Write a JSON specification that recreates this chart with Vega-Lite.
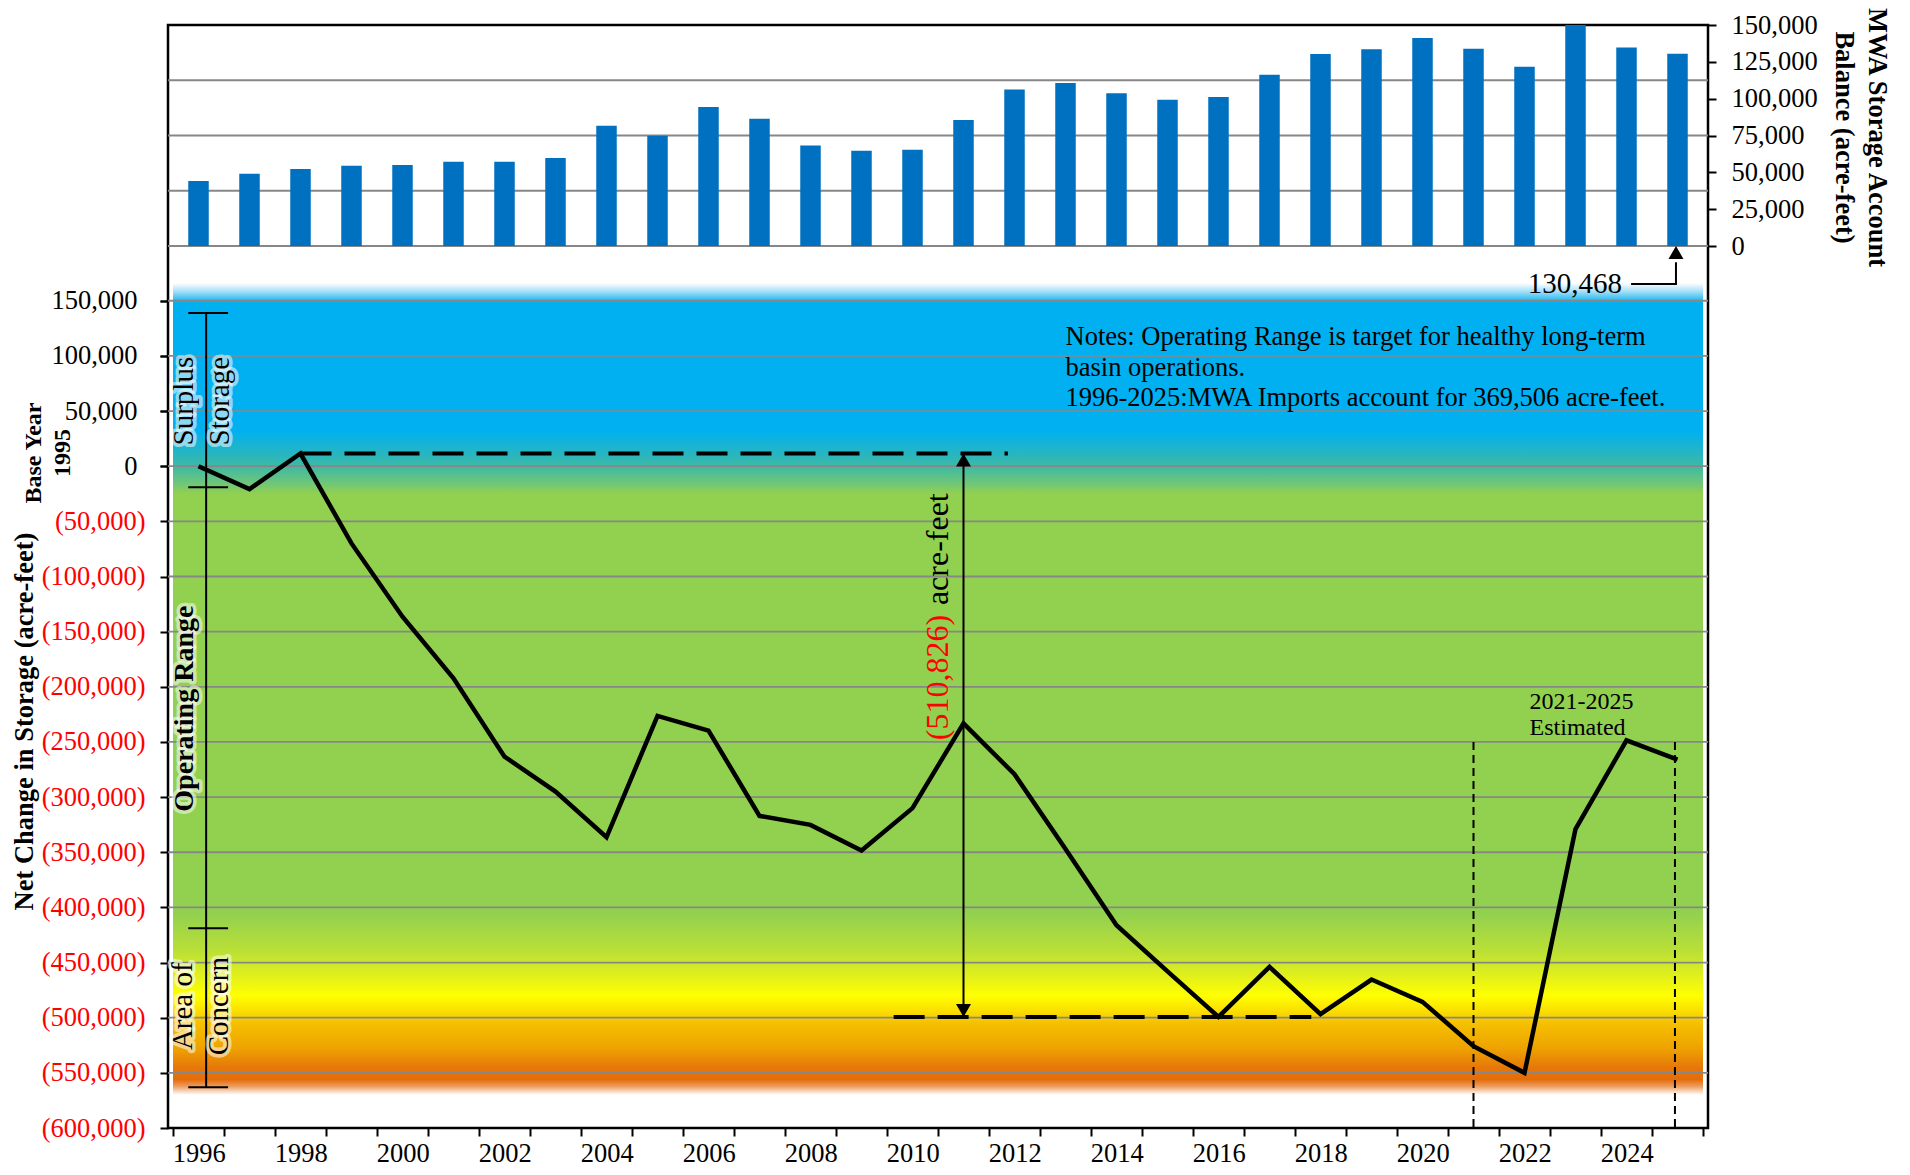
{
  "$schema": "https://vega.github.io/schema/vega-lite/v6.json",
  "width": 1540,
  "height": 1103,
  "autosize": {"type": "none"},
  "padding": {"left": 168, "top": 25, "right": 202, "bottom": 47},
  "background": "white",
  "config": {
    "font": "Liberation Serif",
    "view": {"stroke": "black", "strokeWidth": 2.5},
    "axis": {"labelFont": "Liberation Serif", "titleFont": "Liberation Serif", "labelColor": "black", "titleColor": "black", "tickColor": "black", "grid": false, "domain": false},
    "text": {"font": "Liberation Serif"}
  },
  "datasets": {
    "line": [
      {"year": 1996, "v": 0}, {"year": 1997, "v": -20800}, {"year": 1998, "v": 11500}, {"year": 1999, "v": -70000},
      {"year": 2000, "v": -136500}, {"year": 2001, "v": -192300}, {"year": 2002, "v": -263300}, {"year": 2003, "v": -295000},
      {"year": 2004, "v": -336400}, {"year": 2005, "v": -226400}, {"year": 2006, "v": -239700}, {"year": 2007, "v": -317000},
      {"year": 2008, "v": -325200}, {"year": 2009, "v": -348400}, {"year": 2010, "v": -310000}, {"year": 2011, "v": -233100},
      {"year": 2012, "v": -279300}, {"year": 2013, "v": -347000}, {"year": 2014, "v": -416200}, {"year": 2015, "v": -458000},
      {"year": 2016, "v": -499300}, {"year": 2017, "v": -453900}, {"year": 2018, "v": -496800}, {"year": 2019, "v": -465400},
      {"year": 2020, "v": -485600}, {"year": 2021, "v": -525800}, {"year": 2022, "v": -550000}, {"year": 2023, "v": -329000},
      {"year": 2024, "v": -248500}, {"year": 2025, "v": -266000}
    ],
    "bars": [
      {"year": 1996, "v": 44100}, {"year": 1997, "v": 49100}, {"year": 1998, "v": 52300}, {"year": 1999, "v": 54500},
      {"year": 2000, "v": 55000}, {"year": 2001, "v": 57200}, {"year": 2002, "v": 57200}, {"year": 2003, "v": 59700},
      {"year": 2004, "v": 81700}, {"year": 2005, "v": 74900}, {"year": 2006, "v": 94300}, {"year": 2007, "v": 86400},
      {"year": 2008, "v": 68300}, {"year": 2009, "v": 64700}, {"year": 2010, "v": 65400}, {"year": 2011, "v": 85500},
      {"year": 2012, "v": 106300}, {"year": 2013, "v": 110600}, {"year": 2014, "v": 103600}, {"year": 2015, "v": 99300},
      {"year": 2016, "v": 101100}, {"year": 2017, "v": 116300}, {"year": 2018, "v": 130300}, {"year": 2019, "v": 133500},
      {"year": 2020, "v": 141200}, {"year": 2021, "v": 133900}, {"year": 2022, "v": 121700}, {"year": 2023, "v": 150000},
      {"year": 2024, "v": 134800}, {"year": 2025, "v": 130468}
    ],
    "gridA": [
      {"v": 150000}, {"v": 100000}, {"v": 50000}, {"v": 0}, {"v": -50000}, {"v": -100000}, {"v": -150000}, {"v": -200000},
      {"v": -250000}, {"v": -300000}, {"v": -350000}, {"v": -400000}, {"v": -450000}, {"v": -500000}, {"v": -550000}
    ],
    "gridB": [{"v": 0}, {"v": 37500}, {"v": 75000}, {"v": 112500}],
    "zone": [{"x0": 1995.5, "x1": 2025.5, "y0": -570000, "y1": 166000}],
    "bracket": [{"x": 1996.15, "y0": 139000, "y1": -563000}],
    "caps": [
      {"x0": 1995.8, "x1": 1996.58, "y": 139000}, {"x0": 1995.8, "x1": 1996.58, "y": -19000},
      {"x0": 1995.8, "x1": 1996.58, "y": -419000}, {"x0": 1995.8, "x1": 1996.58, "y": -563000}
    ],
    "zoneLabels": [
      {"x": 1995.715, "y": 59000, "t": "Surplus\nStorage"},
      {"x": 1995.695, "y": -489600, "t": "Area of\nConcern"}
    ],
    "opLabel": [{"x": 1995.74, "y": -219800, "t": "Operating Range"}],
    "hdash": [
      {"x0": 1998, "x1": 2011.87, "y": 11500},
      {"x0": 2009.63, "x1": 2017.82, "y": -499300}
    ],
    "vdash": [
      {"x": 2021, "y0": -250000, "y1": -600000},
      {"x": 2024.95, "y0": -250000, "y1": -600000}
    ],
    "arrow": [{"x": 2011, "y0": 11500, "y1": -499300}],
    "baseYear": [{"x": 1992.78, "y": 11900, "t": "Base Year\n1995"}],
    "notes": [{"x": 2013.0, "y": 117000, "t": "Notes: Operating Range is target for healthy long-term\nbasin operations.\n1996-2025:MWA Imports account for 369,506 acre-feet."}],
    "est": [{"x": 2022.1, "y": -213600, "t": "2021-2025\nEstimated"}],
    "diff": [{"x": 2010.5, "y": -248400, "t": "(510,826)"}],
    "diffUnit": [{"x": 2010.5, "y": -125950, "t": "acre-feet"}],
    "callout": [
      {"x": 2024.09, "y": -25790, "o": 1},
      {"x": 2024.97, "y": -25790, "o": 2},
      {"x": 2024.97, "y": -11000, "o": 3}
    ],
    "calloutHead": [{"x": 2024.97, "y": 0}],
    "calloutText": [{"x": 2023.91, "y": -25790, "t": "130,468"}]
  },
  "layer": [
    {
      "data": {"name": "zone"},
      "mark": {
        "type": "rect",
        "fill": {
          "gradient": "linear", "x1": 0, "y1": 0, "x2": 0, "y2": 1,
          "stops": [
            {"offset": 0, "color": "#FFFFFF"},
            {"offset": 0.0109, "color": "#9EDDF7"},
            {"offset": 0.0245, "color": "#00B0F0"},
            {"offset": 0.182, "color": "#00B0F0"},
            {"offset": 0.2255, "color": "#3DB9A6"},
            {"offset": 0.2459, "color": "#6DC67A"},
            {"offset": 0.2595, "color": "#92D050"},
            {"offset": 0.776, "color": "#92D050"},
            {"offset": 0.8234, "color": "#BBE035"},
            {"offset": 0.8573, "color": "#E6F218"},
            {"offset": 0.8777, "color": "#FFFF00"},
            {"offset": 0.894, "color": "#FBE300"},
            {"offset": 0.9117, "color": "#F5C000"},
            {"offset": 0.943, "color": "#EEA200"},
            {"offset": 0.966, "color": "#E6780A"},
            {"offset": 0.981, "color": "#E46C0A"},
            {"offset": 0.989, "color": "#EC9A5A"},
            {"offset": 1, "color": "#FFFFFF"}
          ]
        }
      },
      "encoding": {
        "x": {
          "field": "x0", "type": "quantitative",
          "scale": {"domain": [1995.5, 2025.5], "nice": false, "zero": false},
          "axis": {
            "orient": "bottom", "title": null, "grid": false, "domain": false,
            "values": [1995.5, 1996.5, 1997.5, 1998.5, 1999.5, 2000.5, 2001.5, 2002.5, 2003.5, 2004.5, 2005.5, 2006.5, 2007.5, 2008.5, 2009.5, 2010.5, 2011.5, 2012.5, 2013.5, 2014.5, 2015.5, 2016.5, 2017.5, 2018.5, 2019.5, 2020.5, 2021.5, 2022.5, 2023.5, 2024.5, 2025.5],
            "labelExpr": "datum.value < 2025 && (datum.value - 1995.5) % 2 == 0 ? '' + (datum.value + 0.5) : ''",
            "labelOffset": 25.67, "labelFlush": false, "labelOverlap": false, "labelBound": false,
            "ticks": true, "tickSize": 8, "tickWidth": 2, "tickColor": "black", "labelPadding": 4, "labelFontSize": 26.5
          }
        },
        "x2": {"field": "x1"},
        "y": {
          "field": "y0", "type": "quantitative",
          "scale": {"domain": [-600000, 400000], "nice": false, "zero": false},
          "axis": {
            "orient": "left", "grid": false, "domain": false,
            "values": [-600000, -550000, -500000, -450000, -400000, -350000, -300000, -250000, -200000, -150000, -100000, -50000, 0, 50000, 100000, 150000],
            "labelExpr": "datum.value < 0 ? '(' + format(-datum.value, ',') + ')' : ''",
            "labelColor": "#FF0000",
            "labelFontSize": 26.5, "ticks": true, "tickSize": 8, "tickWidth": 2, "tickColor": "black", "labelPadding": 15,
            "title": "Net Change in Storage (acre-feet)",
            "titleAngle": 270, "titleX": -144, "titleY": 696, "titleAlign": "center", "titleBaseline": "middle",
            "titleFontWeight": "bold", "titleFontSize": 26.5
          }
        },
        "y2": {"field": "y1"}
      }
    },
    {
      "data": {"name": "gridA"},
      "mark": {"type": "rule", "color": "#878787", "strokeWidth": 1.8},
      "encoding": {
        "y": {
          "field": "v", "type": "quantitative",
          "scale": {"domain": [-600000, 400000], "nice": false, "zero": false},
          "axis": {
            "orient": "left", "grid": false, "domain": false, "title": null,
            "values": [0, 50000, 100000, 150000],
            "labelExpr": "format(datum.value, ',')",
            "labelColor": "black", "labelFontSize": 26.5, "ticks": true, "tickSize": 8, "tickWidth": 2, "tickColor": "black", "labelPadding": 23
          }
        }
      }
    },
    {
      "data": {"name": "bracket"},
      "mark": {"type": "rule", "color": "black", "strokeWidth": 2},
      "encoding": {
        "x": {"field": "x", "type": "quantitative"},
        "y": {"field": "y0", "type": "quantitative", "scale": {"domain": [-600000, 400000], "nice": false, "zero": false}, "axis": null},
        "y2": {"field": "y1"}
      }
    },
    {
      "data": {"name": "caps"},
      "mark": {"type": "rule", "color": "black", "strokeWidth": 2},
      "encoding": {
        "x": {"field": "x0", "type": "quantitative"},
        "x2": {"field": "x1"},
        "y": {"field": "y", "type": "quantitative", "scale": {"domain": [-600000, 400000], "nice": false, "zero": false}, "axis": null}
      }
    },
    {
      "data": {"name": "zoneLabels"},
      "mark": {"type": "text", "angle": 270, "align": "center", "baseline": "middle", "fontSize": 29, "lineBreak": "\n", "lineHeight": 36, "color": "white", "stroke": "white", "strokeWidth": 7, "strokeOpacity": 0.55, "strokeJoin": "round"},
      "encoding": {
        "x": {"field": "x", "type": "quantitative"},
        "y": {"field": "y", "type": "quantitative", "scale": {"domain": [-600000, 400000], "nice": false, "zero": false}, "axis": null},
        "text": {"field": "t", "type": "nominal"}
      }
    },
    {
      "data": {"name": "zoneLabels"},
      "mark": {"type": "text", "angle": 270, "align": "center", "baseline": "middle", "fontSize": 29, "lineBreak": "\n", "lineHeight": 36, "color": "black"},
      "encoding": {
        "x": {"field": "x", "type": "quantitative"},
        "y": {"field": "y", "type": "quantitative", "scale": {"domain": [-600000, 400000], "nice": false, "zero": false}, "axis": null},
        "text": {"field": "t", "type": "nominal"}
      }
    },
    {
      "data": {"name": "opLabel"},
      "mark": {"type": "text", "angle": 270, "align": "center", "baseline": "middle", "fontSize": 28, "fontWeight": "bold", "color": "white", "stroke": "white", "strokeWidth": 7, "strokeOpacity": 0.55, "strokeJoin": "round"},
      "encoding": {
        "x": {"field": "x", "type": "quantitative"},
        "y": {"field": "y", "type": "quantitative", "scale": {"domain": [-600000, 400000], "nice": false, "zero": false}, "axis": null},
        "text": {"field": "t", "type": "nominal"}
      }
    },
    {
      "data": {"name": "opLabel"},
      "mark": {"type": "text", "angle": 270, "align": "center", "baseline": "middle", "fontSize": 28, "fontWeight": "bold", "color": "black"},
      "encoding": {
        "x": {"field": "x", "type": "quantitative"},
        "y": {"field": "y", "type": "quantitative", "scale": {"domain": [-600000, 400000], "nice": false, "zero": false}, "axis": null},
        "text": {"field": "t", "type": "nominal"}
      }
    },
    {
      "data": {"name": "hdash"},
      "mark": {"type": "rule", "color": "black", "strokeWidth": 4, "strokeDash": [31, 13]},
      "encoding": {
        "x": {"field": "x0", "type": "quantitative"},
        "x2": {"field": "x1"},
        "y": {"field": "y", "type": "quantitative", "scale": {"domain": [-600000, 400000], "nice": false, "zero": false}, "axis": null}
      }
    },
    {
      "data": {"name": "vdash"},
      "mark": {"type": "rule", "color": "black", "strokeWidth": 2, "strokeDash": [8, 5]},
      "encoding": {
        "x": {"field": "x", "type": "quantitative"},
        "y": {"field": "y0", "type": "quantitative", "scale": {"domain": [-600000, 400000], "nice": false, "zero": false}, "axis": null},
        "y2": {"field": "y1"}
      }
    },
    {
      "data": {"name": "arrow"},
      "mark": {"type": "rule", "color": "black", "strokeWidth": 2},
      "encoding": {
        "x": {"field": "x", "type": "quantitative"},
        "y": {"field": "y0", "type": "quantitative", "scale": {"domain": [-600000, 400000], "nice": false, "zero": false}, "axis": null},
        "y2": {"field": "y1"}
      }
    },
    {
      "data": {"name": "arrow"},
      "mark": {"type": "point", "shape": "triangle-up", "filled": true, "size": 225, "color": "black", "opacity": 1, "yOffset": 6.5},
      "encoding": {
        "x": {"field": "x", "type": "quantitative"},
        "y": {"field": "y0", "type": "quantitative", "scale": {"domain": [-600000, 400000], "nice": false, "zero": false}, "axis": null}
      }
    },
    {
      "data": {"name": "arrow"},
      "mark": {"type": "point", "shape": "triangle-down", "filled": true, "size": 225, "color": "black", "opacity": 1, "yOffset": -6.5},
      "encoding": {
        "x": {"field": "x", "type": "quantitative"},
        "y": {"field": "y1", "type": "quantitative", "scale": {"domain": [-600000, 400000], "nice": false, "zero": false}, "axis": null}
      }
    },
    {
      "data": {"name": "line"},
      "mark": {"type": "line", "color": "black", "strokeWidth": 4.5, "strokeJoin": "miter", "strokeMiterLimit": 4},
      "encoding": {
        "x": {"field": "year", "type": "quantitative"},
        "y": {"field": "v", "type": "quantitative", "scale": {"domain": [-600000, 400000], "nice": false, "zero": false}, "axis": null}
      }
    },
    {
      "data": {"name": "baseYear"},
      "mark": {"type": "text", "angle": 270, "align": "center", "baseline": "middle", "fontSize": 24, "fontWeight": "bold", "lineBreak": "\n", "lineHeight": 29, "color": "black"},
      "encoding": {
        "x": {"field": "x", "type": "quantitative"},
        "y": {"field": "y", "type": "quantitative", "scale": {"domain": [-600000, 400000], "nice": false, "zero": false}, "axis": null},
        "text": {"field": "t", "type": "nominal"}
      }
    },
    {
      "data": {"name": "notes"},
      "mark": {"type": "text", "align": "left", "baseline": "middle", "fontSize": 26.5, "lineBreak": "\n", "lineHeight": 30.5, "color": "black"},
      "encoding": {
        "x": {"field": "x", "type": "quantitative"},
        "y": {"field": "y", "type": "quantitative", "scale": {"domain": [-600000, 400000], "nice": false, "zero": false}, "axis": null},
        "text": {"field": "t", "type": "nominal"}
      }
    },
    {
      "data": {"name": "est"},
      "mark": {"type": "text", "align": "left", "baseline": "middle", "fontSize": 24, "lineBreak": "\n", "lineHeight": 26, "color": "black"},
      "encoding": {
        "x": {"field": "x", "type": "quantitative"},
        "y": {"field": "y", "type": "quantitative", "scale": {"domain": [-600000, 400000], "nice": false, "zero": false}, "axis": null},
        "text": {"field": "t", "type": "nominal"}
      }
    },
    {
      "data": {"name": "diff"},
      "mark": {"type": "text", "angle": 270, "align": "left", "baseline": "middle", "fontSize": 32, "color": "#FF0000"},
      "encoding": {
        "x": {"field": "x", "type": "quantitative"},
        "y": {"field": "y", "type": "quantitative", "scale": {"domain": [-600000, 400000], "nice": false, "zero": false}, "axis": null},
        "text": {"field": "t", "type": "nominal"}
      }
    },
    {
      "data": {"name": "diffUnit"},
      "mark": {"type": "text", "angle": 270, "align": "left", "baseline": "middle", "fontSize": 32, "color": "black"},
      "encoding": {
        "x": {"field": "x", "type": "quantitative"},
        "y": {"field": "y", "type": "quantitative", "scale": {"domain": [-600000, 400000], "nice": false, "zero": false}, "axis": null},
        "text": {"field": "t", "type": "nominal"}
      }
    },
    {
      "data": {"name": "gridB"},
      "mark": {"type": "rule", "color": "#878787", "strokeWidth": 1.8},
      "encoding": {"y": {"field": "v", "type": "quantitative", "scale": {"domain": [-598600, 150000], "nice": false, "zero": false}, "axis": null}}
    },
    {
      "data": {"name": "bars"},
      "mark": {"type": "bar", "color": "#0070C0", "size": 20.5},
      "encoding": {
        "x": {"field": "year", "type": "quantitative"},
        "y": {
          "field": "v", "type": "quantitative",
          "scale": {"domain": [-598600, 150000], "nice": false, "zero": false},
          "axis": {
            "orient": "right", "grid": false, "domain": false,
            "values": [0, 25000, 50000, 75000, 100000, 125000, 150000],
            "labelExpr": "format(datum.value, ',')",
            "labelFontSize": 26.5, "ticks": true, "tickSize": 8, "tickWidth": 2, "tickColor": "black", "labelPadding": 15,
            "title": ["MWA Storage Account", "Balance (acre-feet)"],
            "titleAngle": 90, "titleX": 168, "titleY": 112, "titleAlign": "center", "titleBaseline": "middle",
            "titleLineHeight": 33, "titleFontWeight": "bold", "titleFontSize": 26.5
          }
        },
        "y2": {"datum": 0}
      }
    },
    {
      "data": {"name": "callout"},
      "mark": {"type": "line", "color": "black", "strokeWidth": 2, "strokeJoin": "miter"},
      "encoding": {
        "x": {"field": "x", "type": "quantitative"},
        "y": {"field": "y", "type": "quantitative", "scale": {"domain": [-598600, 150000], "nice": false, "zero": false}, "axis": null},
        "order": {"field": "o", "type": "quantitative"}
      }
    },
    {
      "data": {"name": "calloutHead"},
      "mark": {"type": "point", "shape": "triangle-up", "filled": true, "size": 225, "color": "black", "opacity": 1, "yOffset": 6.5},
      "encoding": {
        "x": {"field": "x", "type": "quantitative"},
        "y": {"field": "y", "type": "quantitative", "scale": {"domain": [-598600, 150000], "nice": false, "zero": false}, "axis": null}
      }
    },
    {
      "data": {"name": "calloutText"},
      "mark": {"type": "text", "align": "right", "baseline": "middle", "fontSize": 29, "color": "black"},
      "encoding": {
        "x": {"field": "x", "type": "quantitative"},
        "y": {"field": "y", "type": "quantitative", "scale": {"domain": [-598600, 150000], "nice": false, "zero": false}, "axis": null},
        "text": {"field": "t", "type": "nominal"}
      }
    }
  ],
  "resolve": {"scale": {"y": "independent"}, "axis": {"y": "independent"}}
}
